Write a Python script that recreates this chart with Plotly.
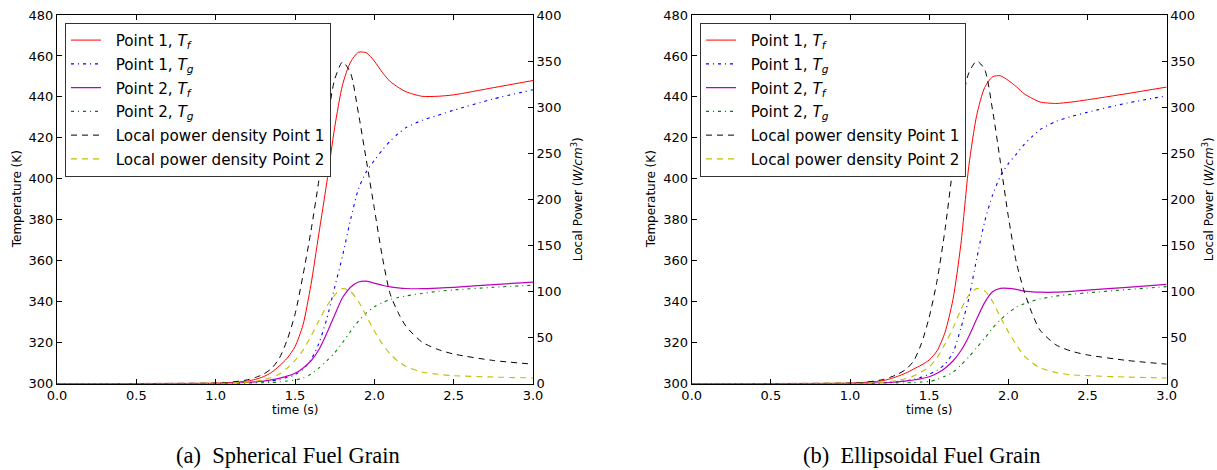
import plotly.graph_objects as go

# ---------------- data ----------------
time_s = [0.0, 0.5, 1.0, 1.1, 1.2, 1.25, 1.3, 1.35, 1.4, 1.45, 1.5, 1.55, 1.6, 1.65, 1.7,
          1.75, 1.8, 1.85, 1.9, 1.95, 2.0, 2.05, 2.1, 2.15, 2.2, 2.3, 2.4, 2.5, 2.75, 3.0]

# (a) Spherical fuel grain
sph_p1_tf = [300, 300, 300.2, 300.5, 301.2, 302, 303.3, 305.3, 308.5, 312.3, 318, 328.5, 348,
             373, 398, 425, 446, 457, 461.8, 461.5, 457.5, 452, 447.5, 444.7, 442.5, 440.3,
             440.3, 441, 444.5, 448]
sph_p1_tg = [300, 300, 300, 300.1, 300.3, 300.5, 300.8, 301.3, 302, 302.9, 304.3, 307, 311.5,
             319.5, 331.5, 347, 362.5, 380, 395, 403.5, 409, 414, 418.5, 422, 425, 428.5,
             431, 433.5, 439, 443.5]
sph_p2_tf = [300, 300, 300, 300.2, 300.5, 300.8, 301.2, 301.8, 302.5, 303.6, 305, 307.5, 311,
             316.5, 324.5, 333.5, 342, 347, 349.6, 350, 349, 348, 347.2, 346.7, 346.4, 346.3,
             346.6, 347, 348.3, 349.5]
sph_p2_tg = [300, 300, 300, 300, 300.1, 300.2, 300.3, 300.5, 300.8, 301.2, 301.7, 302.7, 304.5,
             307.5, 311, 315, 320, 325.5, 330.5, 334.5, 337.5, 339.5, 341, 342, 342.8, 344,
             345, 345.7, 347, 348]
sph_pow1 = [0, 0, 0.5, 1.5, 4, 6.5, 10, 16, 27, 47, 75, 117, 165, 220, 280, 330, 349, 337,
            293, 242, 190, 138, 97, 77, 62, 45, 37, 32, 25, 21]
sph_pow2 = [0, 0, 0.2, 0.6, 1.5, 2.5, 4, 6.5, 10, 16.5, 25, 36, 51, 68, 84, 96, 103, 100,
            89, 73, 57, 43, 32, 24, 18.5, 12.5, 10, 8.5, 7, 6]

# (b) Ellipsoidal fuel grain
ell_p1_tf = [300, 300, 300.2, 300.6, 301.3, 302.2, 303.5, 305, 307, 309, 311.5, 316, 325,
             341, 368, 406, 431, 444.5, 449.8, 450.3, 448, 445, 441.5, 439.3, 437.5, 436.8,
             437.5, 438.6, 441.6, 444.8]
ell_p1_tg = [300, 300, 300, 300.1, 300.3, 300.5, 300.8, 301.3, 302, 303.1, 304.5, 306.5, 309.5,
             315, 327, 341.5, 361, 379, 392, 401.3, 407.4, 412, 416.8, 420.6, 424, 428,
             430.5, 432.5, 437, 440.5]
ell_p2_tf = [300, 300, 300, 300.1, 300.3, 300.5, 300.8, 301.2, 301.7, 302.4, 303.3, 305, 307.5,
             311, 316, 323, 331.5, 339.5, 344.8, 346.5, 346.5, 346, 345.1, 344.8, 344.6,
             344.6, 345, 345.6, 347, 348.4]
ell_p2_tg = [300, 300, 300, 300, 300.1, 300.15, 300.2, 300.3, 300.5, 300.7, 301, 302, 303.5,
             305.5, 309, 313, 317.5, 322, 327, 331.2, 334.5, 337.3, 339, 340.3, 341.3, 342.7,
             343.6, 344.3, 345.9, 347.3]
ell_pow1 = [0, 0, 0.5, 1.5, 4, 6.5, 10, 15, 24, 43, 72, 112, 167, 235, 297, 337, 350, 341,
            297, 240, 181, 132, 100, 76, 58, 42, 35, 31, 25, 21]
ell_pow2 = [0, 0, 0.2, 0.5, 1.3, 2.1, 3.3, 5.2, 8, 12.5, 18, 28, 43, 60, 80, 96, 103, 100.5,
            89, 72, 56, 42, 30, 22.5, 17, 12, 9.5, 8.5, 7, 6]

x_ticks = [0.0, 0.5, 1.0, 1.5, 2.0, 2.5, 3.0]
x_tick_labels = ["0.0", "0.5", "1.0", "1.5", "2.0", "2.5", "3.0"]
legend_names = ["Point 1, <i>T<sub>f</sub></i>", "Point 1, <i>T<sub>g</sub></i>",
                "Point 2, <i>T<sub>f</sub></i>", "Point 2, <i>T<sub>g</sub></i>",
                "Local power density Point 1", "Local power density Point 2"]
x_title = "time (s)"
y_title = "Temperature (K)"
y2_title = "Local Power (<i>W/cm</i><sup>3</sup>)"
captions = ["(a)  Spherical Fuel Grain", "(b)  Ellipsoidal Fuel Grain"]

# ---------------- styles ----------------
RED = "#FF0000"
BLUE = "#0000FF"
MAG = "#BF00BF"
GRN = "#008000"
BLK = "#000000"
YEL = "#BFBF00"
DASHDOT = "3px,4px,1px,4px"
DASHED = "6px,5px"
PAD = "&nbsp;&nbsp;"

fig = go.Figure()

panels = [
    (sph_p1_tf, sph_p1_tg, sph_p2_tf, sph_p2_tg, sph_pow1, sph_pow2, "x", "y", "y2", "legend"),
    (ell_p1_tf, ell_p1_tg, ell_p2_tf, ell_p2_tg, ell_pow1, ell_pow2, "x2", "y3", "y4", "legend2"),
]

for pi, (p1tf, p1tg, p2tf, p2tg, pw1, pw2, xa, ya, ya2, leg) in enumerate(panels):
    specs = [
        (p1tf, ya, RED, "solid", 1.0),
        (p1tg, ya, BLUE, DASHDOT, 1.1),
        (p2tf, ya, MAG, "solid", 1.2),
        (p2tg, ya, GRN, DASHDOT, 1.1),
        (pw1, ya2, BLK, DASHED, 1.0),
        (pw2, ya2, YEL, DASHED, 1.1),
    ]
    for k, ((vals, yax, col, dash, w), name) in enumerate(zip(specs, legend_names)):
        fig.add_trace(go.Scatter(
            x=time_s, y=vals, mode="lines", name=PAD + name, xaxis=xa, yaxis=yax,
            legend=leg, legendgroup=f"g{pi}{k}",
            line=dict(color=col, dash=dash, width=w, shape="spline", smoothing=0.7),
        ))

FONT = "DejaVu Sans"
tickfont = dict(family=FONT, size=13, color="black")
titlefont = dict(family=FONT, size=12, color="black")

L0, L1 = 57, 533
R0, R1 = 691.7, 1166.7
TOP, BOT = 15, 383.5
W, H = 1217, 470
dom_left = [L0 / W, L1 / W]
dom_right = [R0 / W, R1 / W]
dom_y = [1 - BOT / H, 1 - TOP / H]

common_x = dict(range=[0, 3], tickvals=x_ticks, ticktext=x_tick_labels, ticks="inside",
                ticklen=5, tickcolor="black", showline=True, linecolor="black", linewidth=1,
                mirror="ticks", showgrid=False, zeroline=False, tickfont=tickfont,
                automargin=False)
common_y = dict(range=[300, 480], dtick=20, ticks="inside", ticklen=5, tickcolor="black",
                showline=True, linecolor="black", linewidth=1, showgrid=False,
                zeroline=False, tickfont=tickfont, automargin=False)
common_y2 = dict(range=[0, 400], dtick=50, ticks="inside", ticklen=5, tickcolor="black",
                 showline=True, linecolor="black", linewidth=1, showgrid=False,
                 zeroline=False, tickfont=tickfont, side="right", automargin=False)

legend_common = dict(bgcolor="white", bordercolor="#333333", borderwidth=1,
                     font=dict(family=FONT, size=15.2, color="black"),
                     xanchor="left", yanchor="top", tracegroupgap=1)

fig.update_layout(
    width=W, height=H,
    margin=dict(l=0, r=0, t=0, b=0),
    paper_bgcolor="white", plot_bgcolor="white",
    xaxis=dict(domain=dom_left, anchor="y", **common_x),
    xaxis2=dict(domain=dom_right, anchor="y3", **common_x),
    yaxis=dict(domain=dom_y, anchor="x", **common_y),
    yaxis2=dict(overlaying="y", anchor="x", **common_y2),
    yaxis3=dict(domain=dom_y, anchor="x2", **common_y),
    yaxis4=dict(overlaying="y3", anchor="x2", **common_y2),
    legend=dict(x=65 / W, y=1 - 22.7 / H, **legend_common),
    legend2=dict(x=700 / W, y=1 - 22.7 / H, **legend_common),
    showlegend=True,
)

# axis titles as annotations
for x0, x1, ytx, y2tx in [(L0, L1, 17, 577), (R0, R1, 651, 1208)]:
    fig.add_annotation(text=x_title, x=(x0 + x1) / 2 / W, y=1 - 410 / H, xref="paper",
                       yref="paper", showarrow=False, xanchor="center", yanchor="middle",
                       font=titlefont)
    fig.add_annotation(text=y_title, x=ytx / W, y=1 - (TOP + BOT) / 2 / H, xref="paper",
                       yref="paper", showarrow=False, xanchor="center", yanchor="middle",
                       textangle=-90, font=titlefont)
    fig.add_annotation(text=y2_title, x=y2tx / W, y=1 - (TOP + BOT) / 2 / H, xref="paper",
                       yref="paper", showarrow=False, xanchor="center", yanchor="middle",
                       textangle=-90, font=titlefont)

for cap, cx in zip(captions, [288 / W, 921 / W]):
    fig.add_annotation(text=cap, x=cx, y=1 - 455 / H, xref="paper", yref="paper",
                       showarrow=False, xanchor="center", yanchor="middle",
                       font=dict(family="Liberation Serif", size=22.5, color="black"))

fig.write_html("out.html",
               config={"staticPlot": True, "displayModeBar": False},
               post_script="document.body.style.margin='0px';"
                           "document.body.style.overflow='hidden';")
